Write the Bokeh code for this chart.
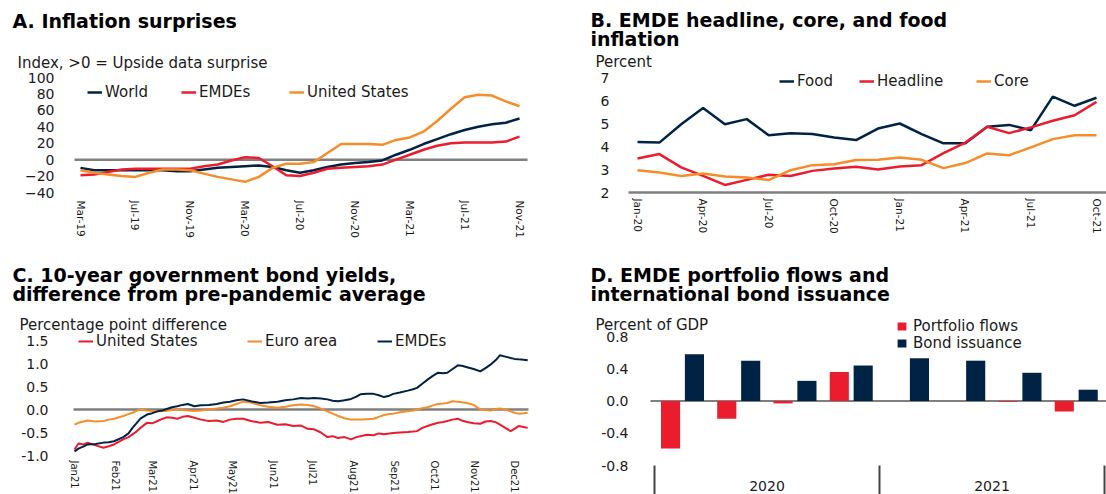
import pandas as pd
from bokeh.plotting import figure
from bokeh.layouts import column, row
from bokeh.models import (Range1d, FixedTicker, Label, Legend, LegendItem,
                          PrintfTickFormatter)
from bokeh.embed import file_html
from bokeh.resources import INLINE

# ---------------- DATA ----------------
# Panel A: inflation surprises (monthly, Mar-2019 .. Nov-2021)
a_months = [d.strftime("%b-%y") for d in pd.date_range("2019-03-01", "2021-11-01", freq="MS")]
a_world = [-10, -13, -13, -13, -13, -13, -13, -14, -14, -12, -10, -9, -8, -7, -9, -13, -16,
           -13, -9, -6, -4, -3, -1, 6, 12, 19, 25, 31, 36, 40, 43, 45, 50]
a_emdes = [-19, -18, -15, -12, -11, -11, -11, -11, -11, -8, -6, -1, 3, 2, -8, -19, -20,
           -16, -11, -10, -9, -8, -6, 0, 6, 12, 17, 20, 21, 21, 21, 22, 28]
a_us = [-13, -16, -18, -20, -21, -16, -12, -12, -13, -17, -21, -24, -27, -21, -10, -5, -5,
        -3, 8, 19, 19, 19, 18, 24, 27, 34, 47, 62, 76, 79, 78, 71, 65]
a_tick_labels = ["Mar-19", "Jul-19", "Nov-19", "Mar-20", "Jul-20", "Nov-20", "Mar-21", "Jul-21", "Nov-21"]
a_yticks = [-40, -20, 0, 20, 40, 60, 80, 100]

# Panel B: EMDE headline, core and food inflation (monthly, Jan-2020 .. Oct-2021)
b_months = [d.strftime("%b-%y") for d in pd.date_range("2020-01-01", "2021-10-01", freq="MS")]
b_food = [4.20, 4.17, 4.97, 5.67, 4.97, 5.19, 4.49, 4.58, 4.54, 4.39, 4.28, 4.78, 5.00,
          4.54, 4.14, 4.14, 4.86, 4.94, 4.71, 6.17, 5.77, 6.12]
b_headline = [3.48, 3.67, 3.09, 2.72, 2.33, 2.55, 2.77, 2.72, 2.94, 3.04, 3.12, 3.00, 3.13,
              3.19, 3.71, 4.17, 4.86, 4.58, 4.83, 5.12, 5.36, 5.94]
b_core = [2.97, 2.87, 2.72, 2.83, 2.70, 2.65, 2.54, 2.97, 3.19, 3.23, 3.41, 3.42, 3.52,
          3.42, 3.06, 3.28, 3.70, 3.62, 3.96, 4.32, 4.49, 4.49]
b_tick_labels = ["Jan-20", "Apr-20", "Jul-20", "Oct-20", "Jan-21", "Apr-21", "Jul-21", "Oct-21"]
b_yticks = [2, 3, 4, 5, 6, 7]

# Panel C: 10-year government bond yields (days since 1 Jan 2021)
c_days = [0, 3, 7, 10, 16, 22, 26, 30, 37, 41, 44, 47, 50, 55, 59, 63, 67, 70, 74, 78, 82, 86,
          91, 96, 102, 108, 113, 118, 123, 128, 134, 141, 147, 154, 160, 166, 172, 177, 182,
          187, 192, 196, 200, 205, 210, 214, 217, 222, 227, 231, 235, 239, 242, 247, 253, 257,
          260, 264, 268, 272, 276, 280, 283, 287, 291, 294, 298, 303, 308, 312, 316, 320, 323,
          327, 331, 334, 337, 341, 344]
c_us = [-0.87, -0.74, -0.76, -0.72, -0.78, -0.83, -0.80, -0.76, -0.65, -0.60, -0.54, -0.48,
        -0.40, -0.29, -0.30, -0.25, -0.20, -0.17, -0.18, -0.20, -0.16, -0.14, -0.18, -0.22,
        -0.25, -0.24, -0.27, -0.22, -0.20, -0.20, -0.25, -0.29, -0.27, -0.33, -0.32, -0.36,
        -0.35, -0.42, -0.43, -0.50, -0.60, -0.58, -0.62, -0.60, -0.65, -0.60, -0.58, -0.55,
        -0.56, -0.52, -0.54, -0.52, -0.51, -0.50, -0.49, -0.48, -0.47, -0.40, -0.36, -0.32,
        -0.29, -0.27, -0.25, -0.22, -0.20, -0.24, -0.27, -0.30, -0.31, -0.26, -0.25, -0.28,
        -0.33, -0.40, -0.47, -0.42, -0.36, -0.38, -0.40]
c_euro = [-0.33, -0.29, -0.26, -0.24, -0.26, -0.25, -0.22, -0.20, -0.14, -0.10, -0.07, -0.03,
          0.00, -0.02, -0.03, -0.04, -0.03, -0.03, -0.01, 0.00, -0.01, -0.02, -0.03, -0.02,
          0.00, 0.02, 0.04, 0.07, 0.12, 0.17, 0.15, 0.09, 0.06, 0.04, 0.06, 0.09, 0.11, 0.10,
          0.07, 0.02, -0.04, -0.09, -0.14, -0.19, -0.22, -0.22, -0.22, -0.21, -0.20, -0.16,
          -0.12, -0.10, -0.09, -0.06, -0.04, -0.02, 0.00, 0.03, 0.05, 0.09, 0.12, 0.13, 0.14,
          0.18, 0.17, 0.16, 0.14, 0.10, 0.00, -0.01, -0.02, 0.01, 0.02, 0.00, -0.04, -0.07,
          -0.09, -0.08, -0.07]
c_emdes = [-0.91, -0.85, -0.80, -0.76, -0.75, -0.72, -0.71, -0.69, -0.60, -0.52, -0.40, -0.30,
           -0.20, -0.11, -0.08, -0.04, -0.02, 0.01, 0.05, 0.07, 0.10, 0.12, 0.07, 0.09, 0.10,
           0.12, 0.15, 0.17, 0.20, 0.22, 0.18, 0.14, 0.15, 0.17, 0.20, 0.22, 0.25, 0.24, 0.25,
           0.24, 0.22, 0.19, 0.18, 0.20, 0.23, 0.28, 0.33, 0.34, 0.34, 0.31, 0.27, 0.30, 0.34,
           0.37, 0.41, 0.44, 0.47, 0.56, 0.65, 0.73, 0.80, 0.79, 0.80, 0.88, 0.96, 0.95, 0.92,
           0.88, 0.83, 0.90, 0.98, 1.08, 1.18, 1.15, 1.12, 1.10, 1.09, 1.08, 1.07]
c_month_labels = ["Jan21", "Feb21", "Mar21", "Apr21", "May21", "Jun21", "Jul21", "Aug21",
                  "Sep21", "Oct21", "Nov21", "Dec21"]
c_yticks = [-1.0, -0.5, 0.0, 0.5, 1.0, 1.5]

# Panel D: EMDE portfolio flows and international bond issuance (quarterly)
d_quarters = ["2020Q1", "2020Q2", "2020Q3", "2020Q4", "2021Q1", "2021Q2", "2021Q3", "2021Q4"]
d_portfolio = [-0.59, -0.22, -0.03, 0.36, 0.0, 0.0, -0.01, -0.13]
d_bonds = [0.58, 0.50, 0.25, 0.44, 0.53, 0.50, 0.35, 0.14]
d_years = ["2020", "2021"]
d_yticks = [-0.8, -0.4, 0.0, 0.4, 0.8]

# ---------------- STYLE ----------------
NAVY = "#002345"
RED = "#EB1C2D"
ORANGE = "#F78D28"
ZERO = "#7f7f7f"
TXT = "#1a1a1a"
FONT = "DejaVu Sans"
TITLE_SIZE = "19px"
W, H = 553, 247


def lin(pa, va, pb, vb):
    """pixel -> value mapping through two anchors"""
    return lambda p: va + (p - pa) * (vb - va) / (pb - pa)


class Panel:
    def __init__(self, ox, oy, xmap, ymap):
        # xmap/ymap: (page_px_a, value_a, page_px_b, value_b)
        self.ox, self.oy = ox, oy
        fx = lin(xmap[0] - ox, xmap[1], xmap[2] - ox, xmap[3])
        fy = lin(ymap[0] - oy, ymap[1], ymap[2] - oy, ymap[3])
        self.fx, self.fy = fx, fy
        p = figure(width=W, height=H, x_range=Range1d(fx(0), fx(W)),
                   y_range=Range1d(fy(H), fy(0)), title=None,
                   output_backend="svg", toolbar_location=None,
                   min_border_left=0, min_border_right=0, min_border_top=0,
                   min_border_bottom=0)
        p.outline_line_color = None
        p.grid.visible = False
        p.background_fill_color = "white"
        p.border_fill_color = "white"
        for ax in (p.xaxis[0], p.yaxis[0]):
            ax.axis_line_color = None
            ax.major_tick_line_color = None
            ax.minor_tick_line_color = None
            ax.major_tick_out = 0
            ax.major_tick_in = 0
            ax.minor_tick_out = 0
            ax.minor_tick_in = 0
            ax.major_label_text_font = FONT
            ax.major_label_text_color = TXT
        p.yaxis[0].major_label_text_font_size = "14px"
        self.p = p

    def px(self, page_x):
        return self.fx(page_x - self.ox)

    def py(self, page_y):
        return self.fy(page_y - self.oy)

    def yaxis(self, ticks, page_x, standoff, fmt=None):
        ax = self.p.yaxis[0]
        ax.ticker = FixedTicker(ticks=ticks)
        ax.fixed_location = self.px(page_x)
        ax.major_label_standoff = standoff
        if fmt:
            ax.formatter = PrintfTickFormatter(format=fmt)

    def text(self, s, page_x, page_y, size, bold=False):
        self.p.add_layout(Label(x=page_x - self.ox, y=H - (page_y - self.oy),
                                x_units="screen", y_units="screen", text=s,
                                text_font=FONT, text_font_size=size,
                                text_font_style="bold" if bold else "normal",
                                text_color="black" if bold else TXT,
                                text_baseline="middle", text_align="left"))

    def item(self, rend, label, page_x, page_y, gw=15, gh=16, standoff=3):
        h = 16
        leg = Legend(items=[LegendItem(label=label, renderers=[rend])],
                     location=(page_x - self.ox, H - (page_y - self.oy) - h / 2),
                     orientation="horizontal", glyph_width=gw, glyph_height=gh,
                     label_height=h, label_standoff=standoff, padding=0, margin=0,
                     spacing=0, border_line_alpha=0, background_fill_alpha=0,
                     label_text_font=FONT, label_text_font_size="15px",
                     label_text_color=TXT)
        self.p.add_layout(leg)

    def hline(self, yv, page_x0, page_x1, color, width):
        self.p.segment(x0=[self.px(page_x0)], y0=[yv], x1=[self.px(page_x1)], y1=[yv],
                       line_color=color, line_width=width)


# ---------------- PANEL A ----------------
A = Panel(0, 0, (80, 0, 519, len(a_months) - 1), (77, 100, 192, -40))
pa = A.p
ax_idx = list(range(len(a_months)))
A.hline(0, 74, 527, ZERO, 2.5)
ra_w = pa.line(ax_idx, a_world, line_color=NAVY, line_width=2.5)
ra_e = pa.line(ax_idx, a_emdes, line_color=RED, line_width=2.5)
ra_u = pa.line(ax_idx, a_us, line_color=ORANGE, line_width=2.5)
a_tick_pos = [a_months.index(lbl) for lbl in a_tick_labels]
pa.xaxis[0].ticker = FixedTicker(ticks=a_tick_pos)
pa.xaxis[0].major_label_overrides = {i: a_months[i] for i in a_tick_pos}
pa.xaxis[0].major_label_orientation = "vertical"
pa.xaxis[0].major_label_text_font_size = "10.5px"
pa.xaxis[0].major_label_standoff = 8
pa.xaxis[0].fixed_location = min(a_yticks)
A.yaxis(a_yticks, 74, 20)
A.text("A. Inflation surprises", 12, 20, TITLE_SIZE, bold=True)
A.text("Index, >0 = Upside data surprise", 17, 62, "15px")
A.item(ra_w, "World", 87, 93)
A.item(ra_e, "EMDEs", 181, 93)
A.item(ra_u, "United States", 289, 93)

# ---------------- PANEL B ----------------
B = Panel(553, 0, (637, 0, 1096, len(b_months) - 1), (77, 7, 192, 2))
pb = B.p
bx_idx = list(range(len(b_months)))
B.hline(min(b_yticks), 628, 1106, ZERO, 2.5)
rb_f = pb.line(bx_idx, b_food, line_color=NAVY, line_width=2.5)
rb_h = pb.line(bx_idx, b_headline, line_color=RED, line_width=2.5)
rb_c = pb.line(bx_idx, b_core, line_color=ORANGE, line_width=2.5)
b_tick_pos = [b_months.index(lbl) for lbl in b_tick_labels]
pb.xaxis[0].ticker = FixedTicker(ticks=b_tick_pos)
pb.xaxis[0].major_label_overrides = {i: b_months[i] for i in b_tick_pos}
pb.xaxis[0].major_label_orientation = "vertical"
pb.xaxis[0].major_label_text_font_size = "10.5px"
pb.xaxis[0].major_label_standoff = 6
pb.xaxis[0].fixed_location = min(b_yticks)
B.yaxis(b_yticks, 628, 19)
B.text("B. EMDE headline, core, and food", 590, 19, TITLE_SIZE, bold=True)
B.text("inflation", 590, 38, TITLE_SIZE, bold=True)
B.text("Percent", 595, 61, "15px")
B.item(rb_f, "Food", 779, 82)
B.item(rb_h, "Headline", 859, 82)
B.item(rb_c, "Core", 976, 82)

# ---------------- PANEL C ----------------
c_month_starts = pd.date_range("2021-01-01", periods=len(c_month_labels), freq="MS")
c_tick_pos = [int((d - pd.Timestamp("2021-01-01")).days) for d in c_month_starts]
C = Panel(0, 247, (74, 0, 514, c_tick_pos[-1]), (340, 1.5, 455, -1.0))
pc = C.p
C.hline(0, 73, 528, ZERO, 2.5)
rc_u = pc.line(c_days, c_us, line_color=RED, line_width=2)
rc_e = pc.line(c_days, c_euro, line_color=ORANGE, line_width=2)
rc_m = pc.line(c_days, c_emdes, line_color=NAVY, line_width=2)
pc.xaxis[0].ticker = FixedTicker(ticks=c_tick_pos)
pc.xaxis[0].major_label_overrides = dict(zip(c_tick_pos, c_month_labels))
pc.xaxis[0].major_label_orientation = "vertical"
pc.xaxis[0].major_label_text_font_size = "10px"
pc.xaxis[0].major_label_standoff = 5
pc.xaxis[0].fixed_location = min(c_yticks)
C.yaxis(c_yticks, 73, 25, "%.1f")
C.text("C. 10-year government bond yields,", 12, 274, TITLE_SIZE, bold=True)
C.text("difference from pre-pandemic average", 12, 293, TITLE_SIZE, bold=True)
C.text("Percentage point difference", 19, 324, "15px")
C.item(rc_u, "United States", 78, 342)
C.item(rc_e, "Euro area", 247, 342)
C.item(rc_m, "EMDEs", 377, 342)

# ---------------- PANEL D ----------------
D = Panel(553, 247, (654, 0, 1104, len(d_quarters)), (336, 0.8, 465, -0.8))
pd_ = D.p
D.hline(0, 650, 1106, "#555555", 1.5)
d_idx = list(range(len(d_quarters)))
rd_p = pd_.vbar(x=[i + 0.285 for i in d_idx], top=d_portfolio, width=0.34,
                fill_color=RED, line_color=None)
rd_b = pd_.vbar(x=[i + 0.71 for i in d_idx], top=d_bonds, width=0.34,
                fill_color=NAVY, line_color=None)
n_per_year = len(d_quarters) // len(d_years)
year_centers = [n_per_year * k + n_per_year / 2 for k in range(len(d_years))]
year_edges = [n_per_year * k for k in range(len(d_years) + 1)]
# year separators below the plotting area
pd_.segment(x0=year_edges, y0=[min(d_yticks)] * len(year_edges),
            x1=year_edges, y1=[D.py(494)] * len(year_edges),
            line_color="#444444", line_width=2)
xa = pd_.xaxis[0]
xa.ticker = FixedTicker(ticks=year_centers)
xa.major_label_overrides = dict(zip(year_centers, d_years))
xa.major_label_text_font_size = "14px"
xa.major_label_standoff = 15
xa.fixed_location = min(d_yticks)
D.yaxis(d_yticks, 650, 22, "%.1f")
D.text("D. EMDE portfolio flows and", 590, 274, TITLE_SIZE, bold=True)
D.text("international bond issuance", 590, 293, TITLE_SIZE, bold=True)
D.text("Percent of GDP", 595, 324, "15px")
D.item(rd_p, "Portfolio flows", 896, 327, gw=11, gh=10, standoff=6)
D.item(rd_b, "Bond issuance", 896, 344, gw=11, gh=10, standoff=6)

layout = column(row(pa, pb), row(pc, pd_))
open("out.html", "w").write(file_html(layout, INLINE))
